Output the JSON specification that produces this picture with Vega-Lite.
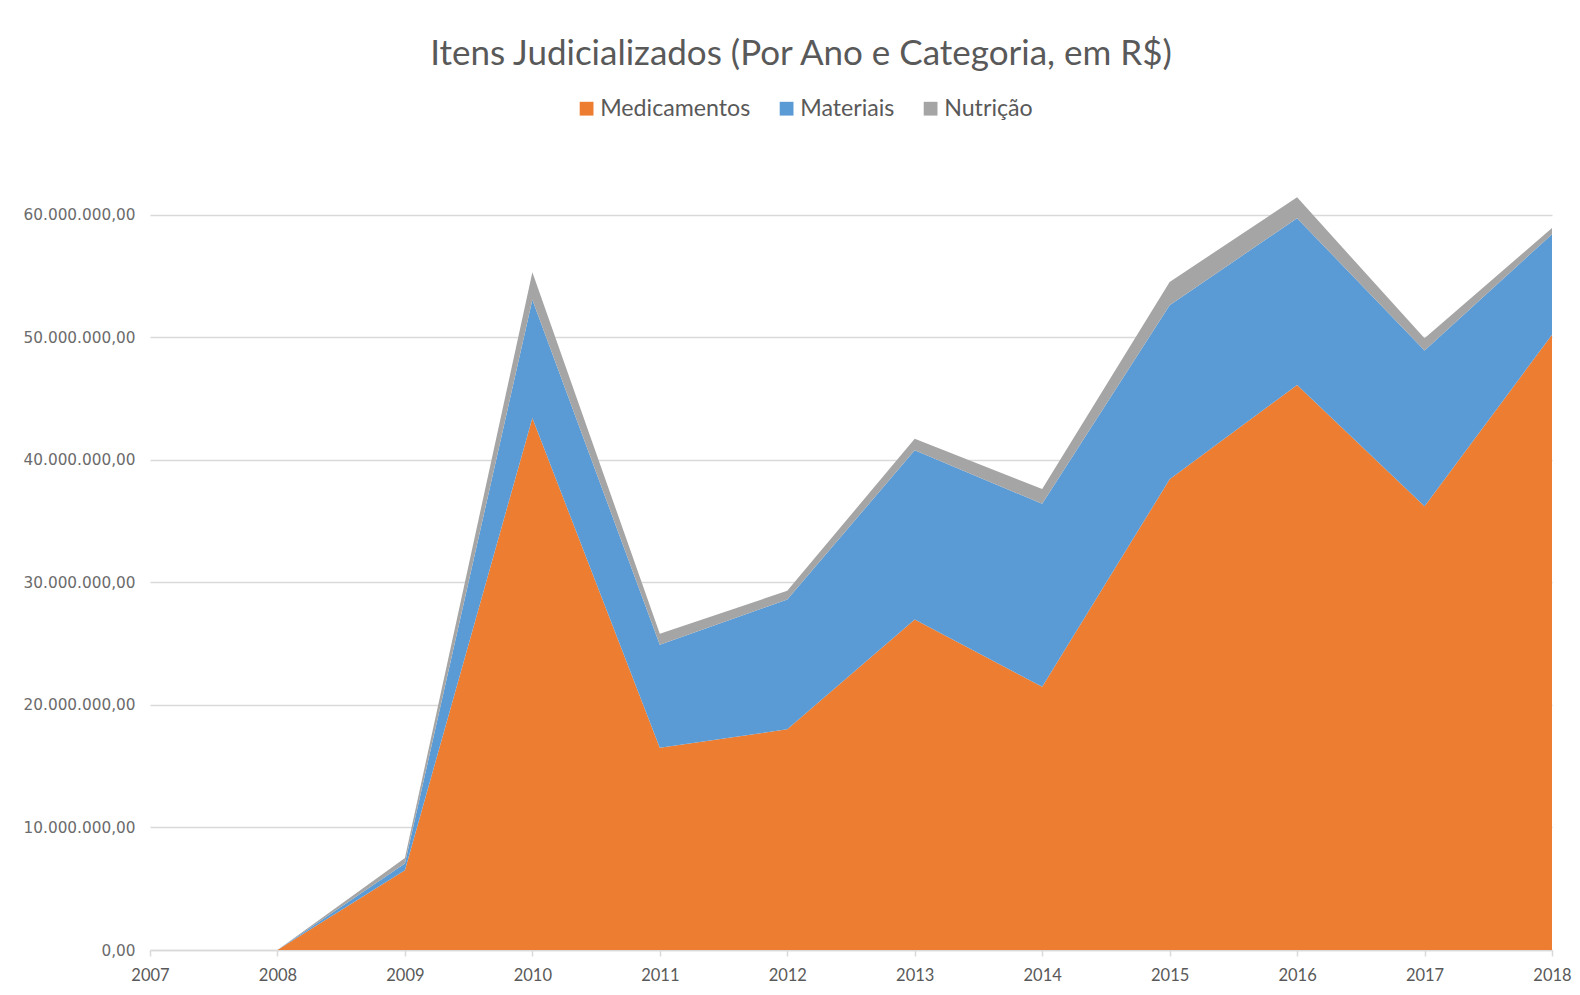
{
  "$schema": "https://vega.github.io/schema/vega-lite/v6.json",
  "width": 1402,
  "height": 760,
  "autosize": {"type": "none"},
  "padding": {"left": 150, "top": 190, "right": 28, "bottom": 45},
  "background": "white",
  "config": {
    "locale": {"number": {"decimal": ",", "thousands": ".", "grouping": [3], "currency": ["R$", ""]}},
    "view": {"stroke": null}
  },
  "title": {
    "text": "Itens Judicializados (Por Ano e Categoria, em R$)",
    "anchor": "middle",
    "dx": -50,
    "offset": 25,
    "font": "Lato",
    "fontSize": 35,
    "fontWeight": "normal",
    "color": "#595959"
  },
  "data": {
    "values": [
      {"ano": 2008, "categoria": "Medicamentos", "ordem": 1, "valor": 0},
      {"ano": 2008, "categoria": "Materiais", "ordem": 2, "valor": 0},
      {"ano": 2008, "categoria": "Nutrição", "ordem": 3, "valor": 0},
      {"ano": 2009, "categoria": "Medicamentos", "ordem": 1, "valor": 6500000},
      {"ano": 2009, "categoria": "Materiais", "ordem": 2, "valor": 550000},
      {"ano": 2009, "categoria": "Nutrição", "ordem": 3, "valor": 450000},
      {"ano": 2010, "categoria": "Medicamentos", "ordem": 1, "valor": 43400000},
      {"ano": 2010, "categoria": "Materiais", "ordem": 2, "valor": 9650000},
      {"ano": 2010, "categoria": "Nutrição", "ordem": 3, "valor": 2250000},
      {"ano": 2011, "categoria": "Medicamentos", "ordem": 1, "valor": 16500000},
      {"ano": 2011, "categoria": "Materiais", "ordem": 2, "valor": 8400000},
      {"ano": 2011, "categoria": "Nutrição", "ordem": 3, "valor": 900000},
      {"ano": 2012, "categoria": "Medicamentos", "ordem": 1, "valor": 18000000},
      {"ano": 2012, "categoria": "Materiais", "ordem": 2, "valor": 10600000},
      {"ano": 2012, "categoria": "Nutrição", "ordem": 3, "valor": 700000},
      {"ano": 2013, "categoria": "Medicamentos", "ordem": 1, "valor": 26960000},
      {"ano": 2013, "categoria": "Materiais", "ordem": 2, "valor": 13800000},
      {"ano": 2013, "categoria": "Nutrição", "ordem": 3, "valor": 950000},
      {"ano": 2014, "categoria": "Medicamentos", "ordem": 1, "valor": 21470000},
      {"ano": 2014, "categoria": "Materiais", "ordem": 2, "valor": 14930000},
      {"ano": 2014, "categoria": "Nutrição", "ordem": 3, "valor": 1200000},
      {"ano": 2015, "categoria": "Medicamentos", "ordem": 1, "valor": 38400000},
      {"ano": 2015, "categoria": "Materiais", "ordem": 2, "valor": 14200000},
      {"ano": 2015, "categoria": "Nutrição", "ordem": 3, "valor": 1900000},
      {"ano": 2016, "categoria": "Medicamentos", "ordem": 1, "valor": 46100000},
      {"ano": 2016, "categoria": "Materiais", "ordem": 2, "valor": 13600000},
      {"ano": 2016, "categoria": "Nutrição", "ordem": 3, "valor": 1700000},
      {"ano": 2017, "categoria": "Medicamentos", "ordem": 1, "valor": 36200000},
      {"ano": 2017, "categoria": "Materiais", "ordem": 2, "valor": 12700000},
      {"ano": 2017, "categoria": "Nutrição", "ordem": 3, "valor": 1000000},
      {"ano": 2018, "categoria": "Medicamentos", "ordem": 1, "valor": 50200000},
      {"ano": 2018, "categoria": "Materiais", "ordem": 2, "valor": 8200000},
      {"ano": 2018, "categoria": "Nutrição", "ordem": 3, "valor": 500000}
    ]
  },
  "mark": {"type": "area", "interpolate": "linear"},
  "encoding": {
    "x": {
      "field": "ano",
      "type": "quantitative",
      "scale": {"domain": [2007, 2018], "nice": false, "zero": false},
      "axis": {
        "title": null,
        "values": [2007, 2008, 2009, 2010, 2011, 2012, 2013, 2014, 2015, 2016, 2017, 2018],
        "format": "d",
        "grid": false,
        "domainColor": "#d9d9d9",
        "domainWidth": 1.5,
        "tickColor": "#d9d9d9",
        "tickSize": 6,
        "tickWidth": 1.5,
        "labelFont": "Lato",
        "labelFontSize": 16.5,
        "labelColor": "#595959",
        "labelPadding": 11,
        "labelFlush": false
      }
    },
    "y": {
      "field": "valor",
      "type": "quantitative",
      "stack": "zero",
      "scale": {"domain": [0, 62000000], "nice": false},
      "axis": {
        "title": null,
        "values": [0, 10000000, 20000000, 30000000, 40000000, 50000000, 60000000],
        "format": ",.2f",
        "domain": false,
        "ticks": false,
        "gridColor": "#d9d9d9",
        "gridWidth": 1.5,
        "labelFont": "DejaVu Sans",
        "labelFontSize": 15.3,
        "labelColor": "#6b6b6b",
        "labelPadding": 15
      }
    },
    "order": {"field": "ordem", "type": "quantitative", "sort": "ascending"},
    "color": {
      "field": "categoria",
      "type": "nominal",
      "sort": ["Medicamentos", "Materiais", "Nutrição"],
      "scale": {
        "domain": ["Medicamentos", "Materiais", "Nutrição"],
        "range": ["#ED7D31", "#5B9BD5", "#A5A5A5"]
      },
      "legend": {
        "title": null,
        "orient": "none",
        "direction": "horizontal",
        "legendX": 425,
        "legendY": -93,
        "symbolType": "square",
        "symbolSize": 190,
        "symbolStrokeWidth": 0,
        "labelFont": "Lato",
        "labelFontSize": 23.2,
        "labelColor": "#595959",
        "labelOffset": 2,
        "columnPadding": 24
      }
    }
  }
}
